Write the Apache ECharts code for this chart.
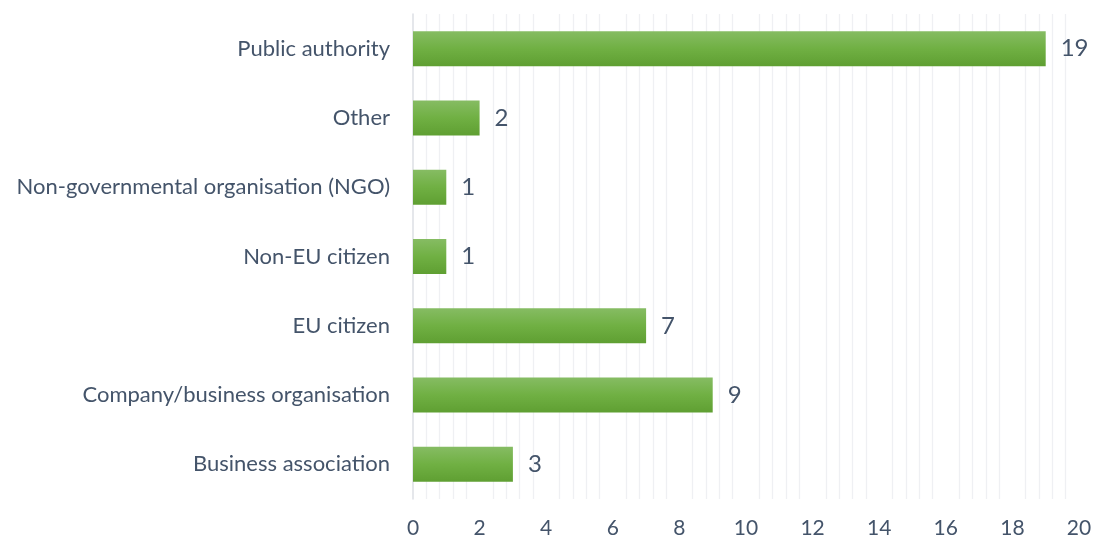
<!DOCTYPE html>
<html>
<head>
<meta charset="utf-8">
<script src="https://cdn.jsdelivr.net/npm/echarts@6/dist/echarts.min.js"></script>
<style>html,body{margin:0;padding:0;background:#fff}#c{width:1096px;height:540px}</style>
</head>
<body>
<div id="c"></div>
<script>
const categories = ["Public authority","Other","Non-governmental organisation (NGO)","Non-EU citizen","EU citizen","Company/business organisation","Business association"];
const values = [19,2,1,1,7,9,3];
const xTicks = [0,2,4,6,8,10,12,14,16,18,20];

const chart = echarts.init(document.getElementById('c'));
const txt = '#44546a';
chart.setOption({
  animation: false,
  backgroundColor: '#ffffff',
  grid: {left: 413, right: 17, top: 14, bottom: 41, containLabel: false},
  xAxis: {
    type: 'value', min: xTicks[0], max: xTicks[xTicks.length-1], interval: 2,
    axisLine: {show: false}, axisTick: {show: false},
    splitLine: {show: false},
    minorTick: {show: false, splitNumber: 5},
    minorSplitLine: {show: true, lineStyle: {color: '#eff0f3', width: 1.3}},
    axisLabel: {fontFamily: 'Lato', fontSize: 21, color: txt, margin: 19}
  },
  yAxis: {
    type: 'category', data: categories, inverse: true,
    axisLine: {show: true, lineStyle: {color: '#dcdfe5', width: 1.5}},
    axisTick: {show: false},
    axisLabel: {fontFamily: 'Lato', fontSize: 22, color: txt, margin: 23}
  },
  series: [{
    type: 'bar', data: values, barWidth: 35,
    itemStyle: {color: new echarts.graphic.LinearGradient(0,0,0,1,[{offset:0,color:'#86bc63'},{offset:0.5,color:'#70b043'},{offset:1,color:'#5f9f32'}])},
    label: {show: true, position: 'right', distance: 15, fontFamily: 'Lato', fontSize: 24, color: txt}
  }]
});
</script>
</body>
</html>
